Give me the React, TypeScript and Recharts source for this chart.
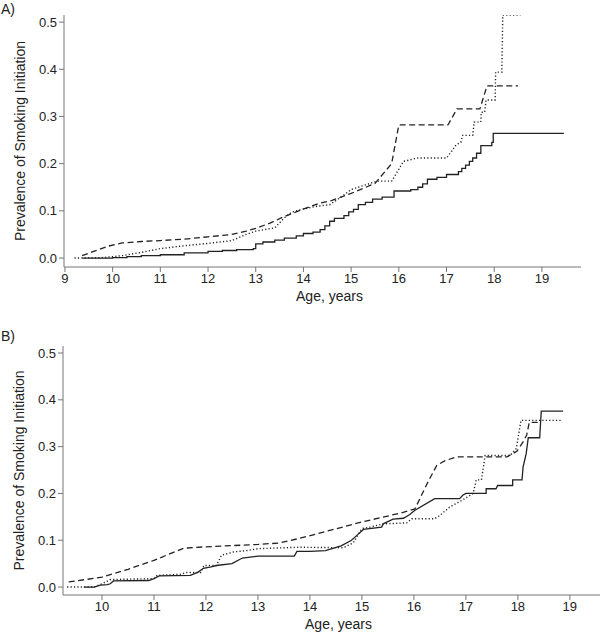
import { Line, LineChart, XAxis, YAxis } from "recharts";

type Pt = [number, number];

// [age, prevalence]
const A_SOLID: Pt[] = [
  [9.36, 0], [10.0, 0.001], [10.3, 0.003], [10.6, 0.005], [11.0, 0.007], [11.5, 0.011],
  [12.0, 0.014], [12.3, 0.016], [12.6, 0.018], [12.95, 0.02], [13.0, 0.03], [13.15, 0.034],
  [13.4, 0.038], [13.6, 0.042], [13.85, 0.047], [14.0, 0.052], [14.2, 0.055], [14.35, 0.06],
  [14.45, 0.068], [14.55, 0.078], [14.65, 0.084], [14.85, 0.09], [14.95, 0.098], [15.05, 0.103],
  [15.15, 0.113], [15.3, 0.118], [15.45, 0.125], [15.65, 0.129], [15.9, 0.142], [16.25, 0.145],
  [16.4, 0.15], [16.5, 0.157], [16.6, 0.167], [16.8, 0.171], [17.0, 0.177], [17.25, 0.183],
  [17.32, 0.19], [17.4, 0.197], [17.48, 0.205], [17.55, 0.212], [17.63, 0.222], [17.72, 0.238],
  [17.95, 0.245], [17.98, 0.264], [19.46, 0.264],
];

const A_DASHED: Pt[] = [
  [9.36, 0.005], [9.6, 0.014], [9.9, 0.025], [10.2, 0.032], [10.6, 0.035], [11.0, 0.037],
  [11.5, 0.04], [12.0, 0.045], [12.5, 0.05], [12.8, 0.057], [13.0, 0.063], [13.3, 0.074],
  [13.6, 0.088], [13.9, 0.1], [14.3, 0.115], [14.6, 0.122], [15.0, 0.137], [15.5, 0.158],
  [15.85, 0.2], [16.0, 0.282], [17.03, 0.282], [17.22, 0.316], [17.7, 0.316], [17.85, 0.365],
  [18.5, 0.365],
];

const A_DOTTED: Pt[] = [
  [9.2, 0], [9.8, 0.001], [10.2, 0.005], [10.6, 0.012], [11.0, 0.02], [11.5, 0.026],
  [12.0, 0.031], [12.5, 0.037], [12.8, 0.05], [13.0, 0.057], [13.4, 0.064], [13.6, 0.085],
  [13.75, 0.097], [14.0, 0.104], [14.3, 0.11], [14.55, 0.113], [14.8, 0.13], [15.0, 0.145],
  [15.3, 0.155], [15.55, 0.163], [15.85, 0.163], [16.1, 0.205], [16.4, 0.212], [17.0, 0.212],
  [17.1, 0.225], [17.2, 0.24], [17.3, 0.245], [17.34, 0.26], [17.55, 0.26], [17.58, 0.288],
  [17.72, 0.288], [17.73, 0.309], [17.8, 0.309], [17.83, 0.335], [18.02, 0.335], [18.03, 0.394],
  [18.16, 0.394], [18.18, 0.515], [18.55, 0.515],
];

const B_SOLID: Pt[] = [
  [9.65, 0], [9.85, 0], [9.97, 0.004], [10.1, 0.005], [10.16, 0.007], [10.22, 0.013],
  [10.9, 0.014], [11.0, 0.018], [11.1, 0.024], [11.7, 0.025], [11.85, 0.032], [11.95, 0.04],
  [12.1, 0.043], [12.2, 0.046], [12.5, 0.05], [12.7, 0.062], [13.0, 0.066], [13.7, 0.066],
  [13.75, 0.076], [14.0, 0.076], [14.3, 0.078], [14.6, 0.088], [14.8, 0.1], [14.92, 0.112],
  [15.03, 0.123], [15.38, 0.128], [15.41, 0.135], [15.6, 0.145], [15.8, 0.147], [15.92, 0.155],
  [16.02, 0.164], [16.4, 0.189], [16.88, 0.189], [16.94, 0.196], [17.0, 0.2], [17.39, 0.2],
  [17.39, 0.21], [17.58, 0.21], [17.61, 0.217], [17.9, 0.217], [17.9, 0.229], [18.08, 0.229],
  [18.1, 0.256], [18.16, 0.285], [18.2, 0.319], [18.42, 0.319], [18.45, 0.376], [18.87, 0.376],
];

const B_DASHED: Pt[] = [
  [9.36, 0.011], [10.0, 0.021], [10.5, 0.038], [11.0, 0.057], [11.57, 0.083], [12.0, 0.086],
  [13.0, 0.091], [13.4, 0.094], [13.8, 0.104], [15.0, 0.139], [15.74, 0.158], [16.02, 0.167],
  [16.25, 0.22], [16.44, 0.26], [16.6, 0.27], [16.82, 0.278], [17.79, 0.278], [17.98, 0.29],
  [18.1, 0.31], [18.17, 0.325], [18.22, 0.352], [18.4, 0.352],
];

const B_DOTTED: Pt[] = [
  [9.33, 0], [9.84, 0], [10.0, 0.007], [10.16, 0.016], [11.0, 0.018], [11.06, 0.025],
  [11.5, 0.027], [11.63, 0.031], [11.9, 0.031], [11.96, 0.046], [12.2, 0.046], [12.3, 0.068],
  [12.53, 0.075], [12.79, 0.078], [13.0, 0.082], [13.8, 0.085], [14.64, 0.084], [14.83, 0.094],
  [15.0, 0.125], [15.16, 0.128], [15.41, 0.135], [15.86, 0.137], [15.96, 0.146], [16.4, 0.146],
  [16.5, 0.153], [16.69, 0.171], [16.92, 0.185], [17.14, 0.2], [17.2, 0.229], [17.3, 0.229],
  [17.37, 0.281], [17.85, 0.281], [17.97, 0.296], [18.06, 0.356], [18.86, 0.356],
];

const A_AGE_TICKS = [9, 10, 11, 12, 13, 14, 15, 16, 17, 18, 19];
const B_AGE_TICKS = [10, 11, 12, 13, 14, 15, 16, 17, 18, 19];
const PREV_TICKS = [0, 0.1, 0.2, 0.3, 0.4, 0.5];

const FONT = "'Liberation Sans', Arial, sans-serif";
const INK = "#222";
const AXIS = "#777";

const rows = (pts: Pt[]) => pts.map(([age, p]) => ({ age, p }));

type PanelProps = {
  height: number;
  margin: { top: number; right: number; bottom: number; left: number };
  ageDomain: [number, number];
  prevDomain: [number, number];
  ageTicks: number[];
  solid: Pt[];
  dashed: Pt[];
  dotted: Pt[];
  solidType: "linear" | "stepAfter";
};

function Panel(props: PanelProps) {
  const tick = { fill: INK, fontSize: 13, fontFamily: FONT };
  return (
    <LineChart width={602} height={props.height} margin={props.margin}>
      <XAxis
        dataKey="age"
        type="number"
        domain={props.ageDomain}
        ticks={props.ageTicks}
        allowDataOverflow
        height={30}
        tick={tick}
        tickSize={5}
        stroke={AXIS}
        label={{
          value: "Age, years",
          position: "bottom",
          offset: -6,
          dx: 7,
          fill: INK,
          fontSize: 14,
          fontFamily: FONT,
        }}
      />
      <YAxis
        type="number"
        domain={props.prevDomain}
        ticks={PREV_TICKS}
        allowDataOverflow
        width={40}
        tick={tick}
        tickSize={5}
        stroke={AXIS}
        tickFormatter={(v) => Number(v).toFixed(1)}
        label={{
          value: "Prevalence of Smoking Initiation",
          angle: -90,
          position: "insideLeft",
          offset: -4,
          fill: INK,
          fontSize: 14,
          fontFamily: FONT,
          style: { textAnchor: "middle" },
        }}
      />
      <Line
        data={rows(props.dotted)}
        dataKey="p"
        type="linear"
        stroke={INK}
        strokeWidth={1.4}
        strokeDasharray="1.2 2.2"
        dot={false}
        isAnimationActive={false}
      />
      <Line
        data={rows(props.dashed)}
        dataKey="p"
        type="linear"
        stroke={INK}
        strokeWidth={1.3}
        strokeDasharray="6 3.5"
        dot={false}
        isAnimationActive={false}
      />
      <Line
        data={rows(props.solid)}
        dataKey="p"
        type={props.solidType}
        stroke={INK}
        strokeWidth={1.3}
        dot={false}
        isAnimationActive={false}
      />
    </LineChart>
  );
}

const tagStyle = {
  position: "absolute" as const,
  left: 1,
  fontFamily: FONT,
  fontSize: 14,
  color: INK,
};

export default function App() {
  return (
    <div
      style={{
        position: "absolute",
        left: 0,
        top: 0,
        width: 602,
        height: 639,
        background: "#fff",
        overflow: "hidden",
      }}
    >
      <div style={{ ...tagStyle, top: 1 }}>A)</div>
      <div style={{ position: "absolute", left: 0, top: 0 }}>
        <Panel
          height={320}
          margin={{ top: 15, right: 21, bottom: 23, left: 24 }}
          ageDomain={[8.98, 19.82]}
          prevDomain={[-0.019, 0.515]}
          ageTicks={A_AGE_TICKS}
          solid={A_SOLID}
          dashed={A_DASHED}
          dotted={A_DOTTED}
          solidType="stepAfter"
        />
      </div>
      <div style={{ ...tagStyle, top: 328 }}>B)</div>
      <div style={{ position: "absolute", left: 0, top: 320 }}>
        <Panel
          height={319}
          margin={{ top: 26, right: 2, bottom: 14, left: 23 }}
          ageDomain={[9.25, 19.58]}
          prevDomain={[-0.017, 0.515]}
          ageTicks={B_AGE_TICKS}
          solid={B_SOLID}
          dashed={B_DASHED}
          dotted={B_DOTTED}
          solidType="linear"
        />
      </div>
    </div>
  );
}
